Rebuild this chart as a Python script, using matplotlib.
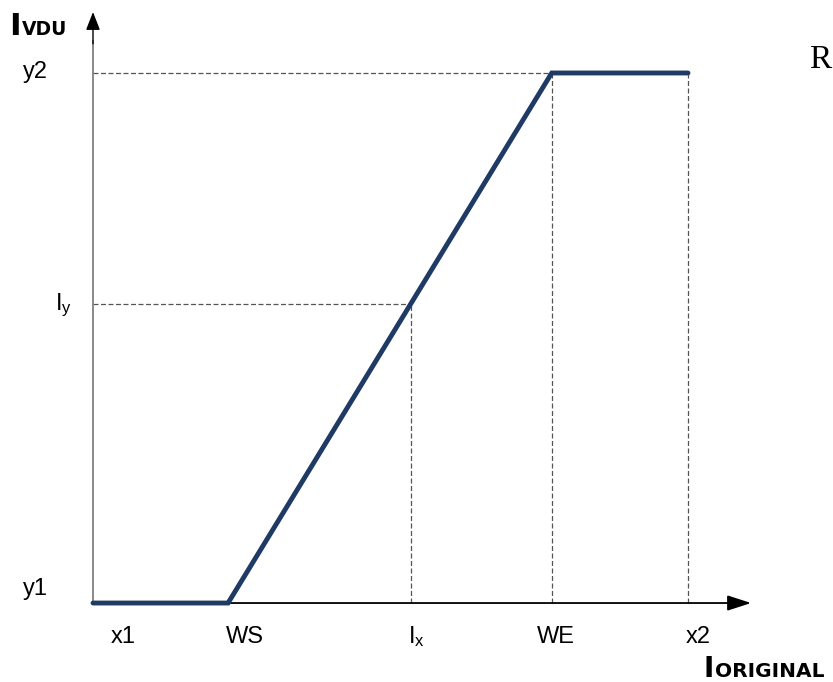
import matplotlib
matplotlib.use("Agg")
import matplotlib.pyplot as plt

plt.rcParams['font.family'] = ['Liberation Sans', 'DejaVu Sans']
plt.rcParams['mathtext.default'] = 'regular'

# Window/level transfer curve (abstract units: input 0..100, output 0..100)
x_ticks = [0.0, 22.7, 53.4, 77.1, 100.0]
x_labels = ["x1", "WS", "$I_x$", "WE", "x2"]
y_ticks = [0.0, 56.4, 100.0]
y_labels = ["y1", "$I_y$", "y2"]

curve_x = [0.0, 22.7, 77.1, 100.0]
curve_y = [0.0, 0.0, 100.0, 100.0]

ix, iy = 53.4, 56.4
we, x2, y2 = 77.1, 100.0, 100.0

fig = plt.figure(figsize=(8.33, 6.82), dpi=100)
ax = fig.add_axes([0, 0, 1, 1])
ax.set_xlim(-15.63, 124.37)
ax.set_ylim(-14.9, 113.77)
ax.axis('off')

dash = dict(color='#555555', lw=0.9, ls=(0, (4, 2)))
# guide lines
ax.plot([0, we], [y2, y2], **dash)
ax.plot([we, we], [0, y2], **dash)
ax.plot([x2, x2], [0, y2], **dash)
ax.plot([0, ix], [iy, iy], **dash)
ax.plot([ix, ix], [0, iy], **dash)

# vertical axis: grey shaft, black head
ax.plot([0, 0], [0, 106], color='#808080', lw=1.3)
ax.annotate("", xy=(0, 111.5), xytext=(0, 105.5),
            arrowprops=dict(arrowstyle='-|>,head_length=1.1,head_width=0.43',
                            color='black', lw=1.0, shrinkA=0, shrinkB=0))
# horizontal axis
ax.annotate("", xy=(110.6, 0), xytext=(0, 0),
            arrowprops=dict(arrowstyle='-|>,head_length=1.45,head_width=0.47',
                            color='black', lw=1.3, shrinkA=0, shrinkB=0))

# transfer curve
ax.plot(curve_x, curve_y, color='#1f3a64', lw=3.5, solid_capstyle='round',
        solid_joinstyle='miter', zorder=5)

# tick labels
x_label_pos = [5.0, 25.5, 54.3, 77.8, 101.8]
for xv, lab in zip(x_label_pos, x_labels):
    ax.text(xv, -7.55, lab, ha='center', va='baseline', fontsize=17)
y_label_pos = [(-9.75, 1.6), (-4.9, 55.3), (-9.75, 99.05)]
for (px, py), lab in zip(y_label_pos, y_labels):
    ax.text(px, py, lab, ha='center', va='baseline', fontsize=17)

# axis titles in bold small caps style
ax.text(-14.1, 107.2, "I", fontsize=22.5, fontweight='bold', va='baseline', ha='left',
        family='DejaVu Sans')
ax.text(-11.9, 107.2, "VDU", fontsize=13.5, fontweight='bold', va='baseline', ha='left',
        family='DejaVu Sans')
ax.text(102.6, -13.96, "I", fontsize=20, fontweight='bold', va='baseline', ha='left',
        family='DejaVu Sans')
ax.text(104.6, -13.96, "ORIGINAL", fontsize=14.5, fontweight='bold', va='baseline', ha='left',
        family='DejaVu Sans')

ax.text(122.2, 102.5, "R", fontsize=24, family='Liberation Serif', ha='center', va='center')

fig.savefig("out.png", dpi=100)
